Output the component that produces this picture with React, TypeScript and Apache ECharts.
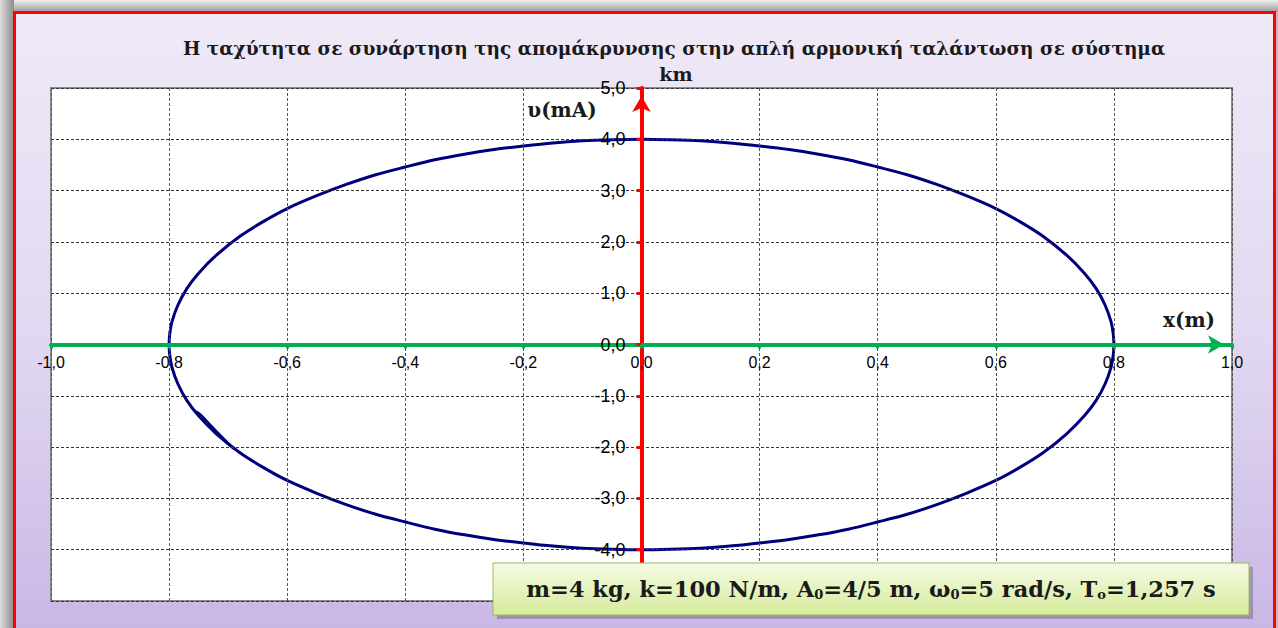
import React, { useEffect, useRef } from "react";
import * as echarts from "echarts";

// Texts
const TITLE_LINE_1 =
  "Η ταχύτητα σε συνάρτηση της απομάκρυνσης στην απλή αρμονική ταλάντωση σε σύστημα";
const TITLE_LINE_2 = "km";
const X_NAME = "x(m)";
const Y_NAME = "υ(mA)";

// Axis ranges
const X_MIN = -1;
const X_MAX = 1;
const X_STEP = 0.2;
const Y_MIN = -5;
const Y_MAX = 5;
const Y_STEP = 1;

// Phase-plane trace: upper branch, from x = +A to x = -A
const upperX = [
  0.8, 0.799, 0.795, 0.785, 0.77, 0.75, 0.72, 0.68, 0.64, 0.6, 0.55, 0.5, 0.45,
  0.4, 0.35, 0.3, 0.25, 0.2, 0.15, 0.1, 0.05, 0.0, -0.05, -0.1, -0.15, -0.2,
  -0.25, -0.3, -0.35, -0.4, -0.45, -0.5, -0.55, -0.6, -0.64, -0.68, -0.72,
  -0.75, -0.77, -0.785, -0.795, -0.799, -0.8,
];
const upperV = [
  0.0, 0.2, 0.45, 0.77, 1.09, 1.39, 1.74, 2.11, 2.4, 2.65, 2.9, 3.12, 3.31,
  3.46, 3.6, 3.71, 3.8, 3.87, 3.93, 3.97, 3.99, 4.0, 3.99, 3.97, 3.93, 3.87,
  3.8, 3.71, 3.6, 3.46, 3.31, 3.12, 2.9, 2.65, 2.4, 2.11, 1.74, 1.39, 1.09,
  0.77, 0.45, 0.2, 0.0,
];
// Lower branch, from x = -A back to x = +A
const lowerX = [
  -0.8, -0.799, -0.795, -0.785, -0.77, -0.75, -0.72, -0.68, -0.64, -0.6, -0.55,
  -0.5, -0.45, -0.4, -0.35, -0.3, -0.25, -0.2, -0.15, -0.1, -0.05, 0.0, 0.05,
  0.1, 0.15, 0.2, 0.25, 0.3, 0.35, 0.4, 0.45, 0.5, 0.55, 0.6, 0.64, 0.68, 0.72,
  0.75, 0.77, 0.785, 0.795, 0.799, 0.8,
];
const lowerV = [
  0.0, -0.2, -0.45, -0.77, -1.09, -1.39, -1.74, -2.11, -2.4, -2.65, -2.9,
  -3.12, -3.31, -3.46, -3.6, -3.71, -3.8, -3.87, -3.93, -3.97, -3.99, -4.0,
  -3.99, -3.97, -3.93, -3.87, -3.8, -3.71, -3.6, -3.46, -3.31, -3.12, -2.9,
  -2.65, -2.4, -2.11, -1.74, -1.39, -1.09, -0.77, -0.45, -0.2, 0.0,
];
// Short retraced piece where the loop overlaps itself
const overlapX = [-0.756, -0.748, -0.725, -0.7, -0.69];
const overlapV = [-1.31, -1.36, -1.64, -1.93, -2.03];

const zip = (xs: number[], ys: number[]) => xs.map((x, i) => [x, ys[i]]);
const comma = (v: number) => v.toFixed(1).replace(".", ",");

const SERIF = "'DejaVu Serif', 'Liberation Serif', serif";
const SANS = "'Liberation Sans', Arial, sans-serif";

// Plot rectangle (pixels inside the 1278x628 canvas)
const GRID = { left: 51, right: 46, top: 88, bottom: 27 };
const PLOT_W = 1278 - GRID.left - GRID.right;
const PLOT_H = 628 - GRID.top - GRID.bottom;

export default function App() {
  const ref = useRef<HTMLDivElement>(null);

  useEffect(() => {
    if (!ref.current) return;
    const chart = echarts.init(ref.current, undefined, { renderer: "svg" });

    const traceStyle = { color: "#00007f", width: 3 };
    // the axes cross at the origin, which sits in the middle of the plot
    const xAxisOffset = -PLOT_H * ((0 - Y_MIN) / (Y_MAX - Y_MIN));
    const yAxisOffset = -PLOT_W * ((0 - X_MIN) / (X_MAX - X_MIN));

    chart.setOption({
      animation: false,
      backgroundColor: "#bdbdbd",
      grid: {
        ...GRID,
        show: true,
        backgroundColor: "#ffffff",
        borderColor: "#8a8a8a",
        borderWidth: 2,
      },
      xAxis: {
        type: "value",
        position: "bottom",
        offset: xAxisOffset,
        min: X_MIN,
        max: X_MAX,
        interval: X_STEP,
        axisLine: {
          onZero: false,
          symbol: ["none", "arrow"],
          symbolSize: [14, 16],
          symbolOffset: [0, -8],
          lineStyle: { color: "#00b050", width: 4 },
        },
        axisTick: { show: true, length: 4, lineStyle: { color: "#00b050", width: 3 } },
        axisLabel: {
          formatter: comma,
          fontSize: 16,
          fontFamily: SANS,
          color: "#000",
          margin: 10,
          showMinLabel: true,
          showMaxLabel: true,
        },
        splitLine: { show: true, lineStyle: { color: "#555", width: 1, type: [3, 2] } },
        z: 4,
      },
      yAxis: {
        type: "value",
        position: "left",
        offset: yAxisOffset,
        min: Y_MIN,
        max: Y_MAX,
        interval: Y_STEP,
        axisLine: {
          onZero: false,
          symbol: ["none", "arrow"],
          symbolSize: [14, 16],
          symbolOffset: [0, -8],
          lineStyle: { color: "#ff0000", width: 4 },
        },
        axisTick: { show: true, length: 5, lineStyle: { color: "#ff0000", width: 3 } },
        axisLabel: {
          formatter: comma,
          fontSize: 18,
          fontFamily: SANS,
          color: "#000",
          margin: 16,
          // the bottom label sits under the parameters box
          showMinLabel: false,
        },
        splitLine: { show: true, lineStyle: { color: "#333", width: 1, type: [3, 2] } },
        z: 4,
      },
      series: [
        {
          type: "line",
          data: zip(upperX, upperV),
          showSymbol: false,
          smooth: 0.3,
          lineStyle: traceStyle,
          z: 3,
        },
        {
          type: "line",
          data: zip(lowerX, lowerV),
          showSymbol: false,
          smooth: 0.3,
          lineStyle: traceStyle,
          z: 3,
        },
        {
          type: "line",
          data: zip(overlapX, overlapV),
          showSymbol: false,
          smooth: 0.3,
          lineStyle: traceStyle,
          z: 3,
        },
      ],
      graphic: [
        // outer drop shadow
        {
          type: "rect",
          z: -100,
          shape: { x: 0, y: 0, width: 1278, height: 12 },
          style: {
            fill: new echarts.graphic.LinearGradient(0, 0, 0, 1, [
              { offset: 0, color: "#eeeeee" },
              { offset: 1, color: "#9a9a9a" },
            ]),
          },
        },
        {
          type: "rect",
          z: -100,
          shape: { x: 0, y: 0, width: 14, height: 628 },
          style: {
            fill: new echarts.graphic.LinearGradient(0, 0, 1, 0, [
              { offset: 0, color: "#dcdcdc" },
              { offset: 1, color: "#8c8c8c" },
            ]),
          },
        },
        // frame with red border
        {
          type: "rect",
          z: -90,
          shape: { x: 14.5, y: 12.5, width: 1260, height: 640 },
          style: {
            fill: new echarts.graphic.LinearGradient(0, 0, 0, 1, [
              { offset: 0, color: "#efe9f7" },
              { offset: 0.5, color: "#e2d8f1" },
              { offset: 1, color: "#c7b5e5" },
            ]),
            stroke: "#ff0000",
            lineWidth: 3,
          },
        },
        // title
        {
          type: "text",
          z: 10,
          x: 674,
          y: 48,
          style: {
            text: TITLE_LINE_1,
            font: `bold 18.5px ${SERIF}`,
            fill: "#1a1a1a",
            align: "center",
            verticalAlign: "middle",
          },
        },
        {
          type: "text",
          z: 10,
          x: 676,
          y: 74,
          style: {
            text: TITLE_LINE_2,
            font: `bold 19px ${SERIF}`,
            fill: "#1a1a1a",
            align: "center",
            verticalAlign: "middle",
          },
        },
        // axis names
        {
          type: "text",
          z: 10,
          x: 562,
          y: 110,
          style: {
            text: Y_NAME,
            font: `bold 20px ${SERIF}`,
            fill: "#1a1a1a",
            align: "center",
            verticalAlign: "middle",
          },
        },
        {
          type: "text",
          z: 10,
          x: 1189,
          y: 320,
          style: {
            text: X_NAME,
            font: `bold 20px ${SERIF}`,
            fill: "#1a1a1a",
            align: "center",
            verticalAlign: "middle",
          },
        },
        // parameters box
        {
          type: "group",
          z: 20,
          children: [
            {
              type: "rect",
              z: 20,
              shape: { x: 497, y: 567, width: 756, height: 52 },
              style: { fill: "rgba(0,0,0,0.22)" },
            },
            {
              type: "rect",
              z: 21,
              shape: { x: 493, y: 563, width: 756, height: 52 },
              style: {
                fill: new echarts.graphic.LinearGradient(0, 0, 0, 1, [
                  { offset: 0, color: "#f5fbe4" },
                  { offset: 1, color: "#d5eb9c" },
                ]),
                stroke: "#9bbb59",
                lineWidth: 1,
              },
            },
            {
              type: "text",
              z: 22,
              x: 871,
              y: 589,
              style: {
                text:
                  "m=4 kg, k=100 N/m, A{s|0}=4/5 m, ω{s|0}=5 rad/s, T{s|o}=1,257 s",
                font: `bold 22.5px ${SERIF}`,
                fill: "#1a1a1a",
                align: "center",
                verticalAlign: "middle",
                rich: {
                  s: {
                    font: `bold 13px ${SERIF}`,
                    fill: "#1a1a1a",
                    verticalAlign: "bottom",
                    lineHeight: 12,
                  },
                },
              },
            },
          ],
        },
      ],
    });

    return () => chart.dispose();
  }, []);

  return (
    <div
      ref={ref}
      style={{ position: "fixed", left: 0, top: 0, width: 1278, height: 628 }}
    />
  );
}
